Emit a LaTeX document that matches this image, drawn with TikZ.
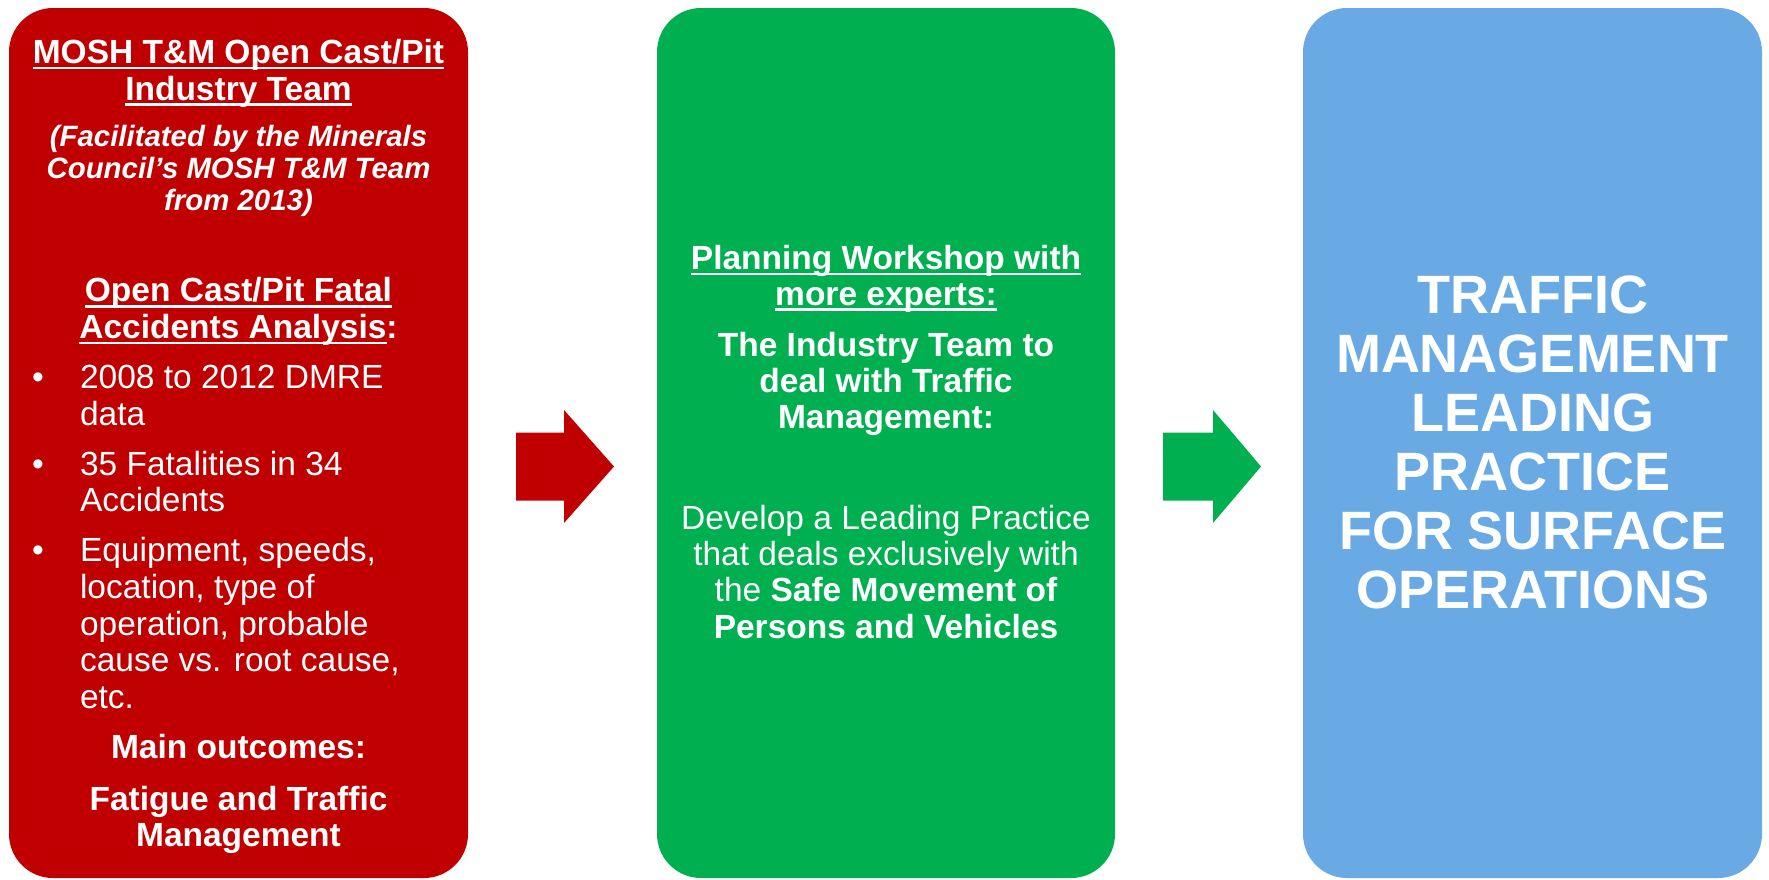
\documentclass[tikz,border=0pt]{standalone}
\usepackage{fontspec}
\setmainfont{Liberation Sans}
\definecolor{boxred}{HTML}{C00000}
\definecolor{boxgreen}{HTML}{00B050}
\definecolor{boxblue}{HTML}{69AAE4}
\newcommand\xul[1]{\leavevmode\setbox0\hbox{#1}\rlap{\rule[-6pt]{\wd0}{2.6pt}}\box0}
\tikzset{
  panel/.style={rounded corners=44pt, minimum height=870pt, inner sep=0pt, draw=none},
  txt/.style={inner sep=0pt, outer sep=0pt, text=white, anchor=base},
  txtl/.style={inner sep=0pt, outer sep=0pt, text=white, anchor=base west},
}
\begin{document}
\begin{tikzpicture}[x=1pt,y=-1pt]
\useasboundingbox (0,0) rectangle (1769,879);
% panels
\node[panel, fill=boxred, minimum width=459pt] (red) at (238.5,443) {};
\node[panel, fill=boxgreen, minimum width=458pt] (green) at (886,443) {};
\node[panel, fill=boxblue, minimum width=459pt] (blue) at (1532.5,443) {};
% arrows
\coordinate (a1) at (516,466.5);
\fill[boxred] (a1) ++(0,-34) -- ++(48,0) -- ++(0,-22.5) -- ++(50,56.5) -- ++(-50,56.5) -- ++(0,-22.5) -- ++(-48,0) -- cycle;
\coordinate (a2) at (1163,466.5);
\fill[boxgreen] (a2) ++(0,-34) -- ++(50,0) -- ++(0,-22.5) -- ++(48,56.5) -- ++(-48,56.5) -- ++(0,-22.5) -- ++(-50,0) -- cycle;
% red panel text
\node[txt] (rtitle) at (238.5,63.3) {\parbox[t]{440pt}{\centering\fontsize{33.5pt}{36.7pt}\selectfont\bfseries
  \xul{MOSH T\&M Open Cast/Pit}\\\xul{Industry Team}}};
\node[txt] (rital) at (238.5,146.7) {\parbox[t]{440pt}{\centering\fontsize{29.4pt}{31.7pt}\selectfont\bfseries\itshape
  (Facilitated by the Minerals\\Council’s MOSH T\&M Team\\from 2013)}};
\node[txt] (rhead) at (238.5,301.7) {\parbox[t]{440pt}{\centering\fontsize{33.5pt}{36.6pt}\selectfont\bfseries
  \xul{Open Cast/Pit Fatal}\\\xul{Accidents Analysis}:}};
\node[txt] (b1) at (38,388.3) {\fontsize{33.5pt}{36.5pt}\selectfont •};
\node[txtl] (i1) at (80,388.3) {\parbox[t]{380pt}{\raggedright\fontsize{33.5pt}{36.7pt}\selectfont
  2008 to 2012 DMRE\\data}};
\node[txt] (b2) at (38,475) {\fontsize{33.5pt}{36.5pt}\selectfont •};
\node[txtl] (i2) at (80,475) {\parbox[t]{380pt}{\raggedright\fontsize{33.5pt}{36.7pt}\selectfont
  35 Fatalities in 34\\Accidents}};
\node[txt] (b3) at (38,561.7) {\fontsize{33.5pt}{36.5pt}\selectfont •};
\node[txtl] (i3) at (80,561.7) {\parbox[t]{380pt}{\raggedright\fontsize{33.5pt}{36.65pt}\selectfont
  Equipment, speeds,\\location, type of\\operation, probable\\cause vs. root cause,\\etc.}};
\node[txt] (rmain) at (238.5,758.3) {\fontsize{33.5pt}{36.5pt}\selectfont\bfseries Main outcomes:};
\node[txt] (rout) at (238.5,810) {\parbox[t]{440pt}{\centering\fontsize{33.5pt}{36pt}\selectfont\bfseries
  Fatigue and Traffic\\Management}};
% green panel text
\node[txt] (gtitle) at (886,269.3) {\parbox[t]{440pt}{\centering\fontsize{33.5pt}{35.7pt}\selectfont\bfseries
  \xul{Planning Workshop with}\\\xul{more experts:}}};
\node[txt] (gteam) at (886,356.7) {\parbox[t]{440pt}{\centering\fontsize{33.5pt}{35.8pt}\selectfont\bfseries
  The Industry Team to\\deal with Traffic\\Management:}};
\node[txt] (gdev) at (886,529.3) {\parbox[t]{440pt}{\centering\fontsize{33.5pt}{36.3pt}\selectfont
  Develop a Leading Practice\\that deals exclusively with\\the \textbf{Safe Movement of}\\\textbf{Persons and Vehicles}}};
% blue panel text
\node[txt] (btext) at (1532.5,313.3) {\parbox[t]{455pt}{\centering\fontsize{54pt}{59pt}\selectfont\bfseries
  TRAFFIC\\MANAGEMENT\\LEADING\\PRACTICE\\FOR SURFACE\\OPERATIONS}};
\end{tikzpicture}
\end{document}
